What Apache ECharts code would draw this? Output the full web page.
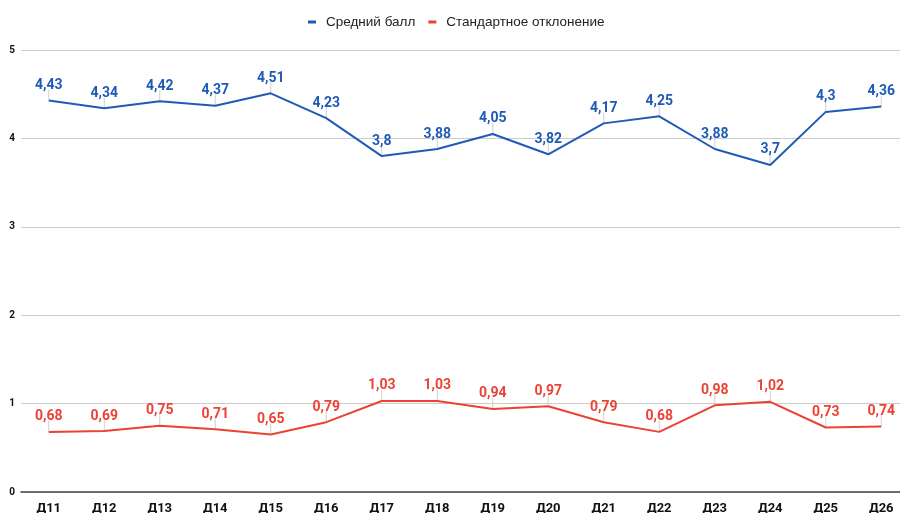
<!DOCTYPE html>
<html>
<head>
<meta charset="utf-8">
<script src="https://cdn.jsdelivr.net/npm/echarts@6/dist/echarts.min.js"></script>
<style>
  html, body { margin: 0; padding: 0; background: #fff; }
  #chart { width: 900px; height: 513px; }
</style>
</head>
<body>
<div id="chart"></div>
<script>
const categories = ['Д11', 'Д12', 'Д13', 'Д14', 'Д15', 'Д16', 'Д17', 'Д18', 'Д19', 'Д20', 'Д21', 'Д22', 'Д23', 'Д24', 'Д25', 'Д26']
const avgScore = [4.43, 4.34, 4.42, 4.37, 4.51, 4.23, 3.8, 3.88, 4.05, 3.82, 4.17, 4.25, 3.88, 3.7, 4.3, 4.36]
const stdDev = [0.68, 0.69, 0.75, 0.71, 0.65, 0.79, 1.03, 1.03, 0.94, 0.97, 0.79, 0.68, 0.98, 1.02, 0.73, 0.74]

const blue = '#1f5bb6'
const red = '#ec4234'

const chart = echarts.init(document.getElementById('chart'))

function makeSeries (name, data, color) {
  return {
    name: name,
    type: 'line',
    data: data,
    color: color,
    symbol: 'circle',
    symbolSize: 0,
    showSymbol: true,
    z: 3,
    lineStyle: { width: 2, color: color },
    label: {
      show: true,
      position: 'top',
      distance: 8,
      color: color,
      fontFamily: 'Roboto',
      fontWeight: 'bold',
      fontSize: 14,
      formatter: p => String(p.value).replace('.', ',')
    },
    emphasis: { disabled: true },
    animation: false
  }
}

// thin grey leader line from each point up towards its label
function leaderSeries (data) {
  return {
    type: 'custom',
    silent: true,
    z: 1,
    animation: false,
    data: data.map((v, i) => [i, v]),
    renderItem: (params, api) => {
      const p = api.coord([api.value(0), api.value(1)])
      return {
        type: 'line',
        shape: { x1: p[0], y1: p[1], x2: p[0], y2: p[1] - 11 },
        style: { stroke: '#d0d0d0', lineWidth: 1 }
      }
    }
  }
}

chart.setOption({
  legend: {
    top: 10,
    left: 303,
    itemWidth: 8,
    itemHeight: 3,
    itemGap: 13,
    icon: 'rect',
    textStyle: { color: '#222', fontFamily: 'Liberation Sans', fontSize: 13.5, padding: [0, 0, 0, 5] },
    data: ['Средний балл', 'Стандартное отклонение']
  },
  grid: {
    top: 50,
    left: 21,
    width: 888,
    bottom: 21,
    outerBoundsMode: 'none'
  },
  xAxis: {
    type: 'category',
    data: categories,
    boundaryGap: true,
    axisTick: { show: false },
    axisLine: { lineStyle: { color: '#444', width: 1.5 } },
    axisLabel: {
      color: '#111',
      fontFamily: 'Roboto',
      fontWeight: 'bold',
      fontSize: 13,
      margin: 10
    }
  },
  yAxis: {
    type: 'value',
    min: 0,
    max: 5,
    interval: 1,
    axisLabel: {
      color: '#111',
      fontFamily: 'Roboto',
      fontWeight: 'bold',
      fontSize: 10,
      margin: 6
    },
    splitLine: { lineStyle: { color: '#cccccc', width: 1 } }
  },
  series: [
    makeSeries('Средний балл', avgScore, blue),
    makeSeries('Стандартное отклонение', stdDev, red),
    leaderSeries(avgScore),
    leaderSeries(stdDev)
  ]
})
</script>
</body>
</html>
